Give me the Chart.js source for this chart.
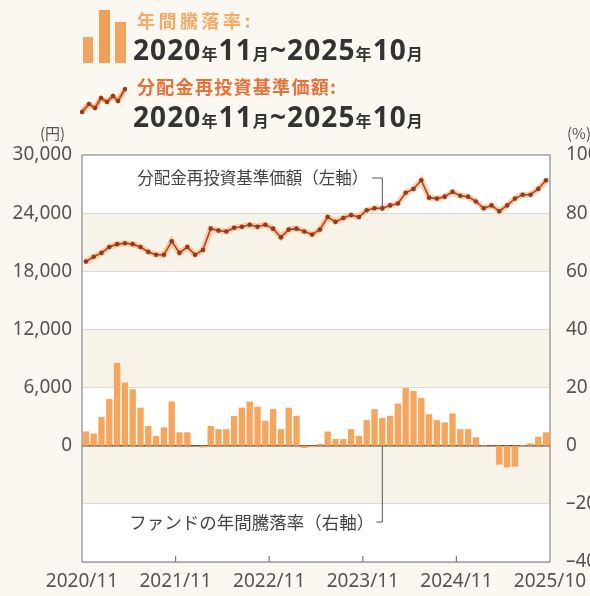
<!DOCTYPE html>
<html lang="ja">
<head>
<meta charset="utf-8">
<script src="https://cdn.jsdelivr.net/npm/chart.js@4.4.1/dist/chart.umd.min.js"></script>
<style>
  html, body { margin: 0; padding: 0; background: #fbf8f1; overflow: hidden; }
  #wrap { position: relative; width: 610px; height: 596px; }
  #chart { position: absolute; left: 0; top: 0; }
  .t { position: absolute; font-family: "Noto Sans CJK JP", "Noto Sans", sans-serif; white-space: nowrap; }
  .lbl1 { left: 137px; top: 7px; font-size: 18px; font-weight: bold; color: #f5aa66; letter-spacing: 3.5px; }
  .lbl2 { left: 137px; top: 73px; font-size: 18px; font-weight: bold; color: #e8703a; letter-spacing: 1.3px; }
  .date { font-family: "Noto Sans", "Noto Sans CJK JP", sans-serif; font-weight: bold; color: #333; font-size: 28px; line-height: normal; letter-spacing: 1.1px; }
  .date small { font-family: "Noto Sans CJK JP", sans-serif; font-size: 16px; font-weight: bold; }
  .d1 { left: 133px; top: 30px; }
  .d2 { left: 133px; top: 97px; }
  .unit { font-size: 15px; color: #555; top: 122px; }
</style>
</head>
<body>
<div id="wrap">
  <canvas id="chart" width="610" height="596"></canvas>
  <svg class="t" style="left:80px;top:8px" width="50" height="58">
    <rect x="3" y="29" width="10" height="26" fill="#f0a45e"/>
    <rect x="19" y="2" width="11" height="53" fill="#eea058"/>
    <rect x="35" y="14" width="11" height="41" fill="#f0a45e"/>
  </svg>
  <svg class="t" style="left:78px;top:84px" width="52" height="36">
    <polyline points="4,28 11,20 17,24 23,14 29,18 35,12 40,17 47,5" fill="none" stroke="#f6b27a" stroke-width="5" stroke-linejoin="round"/>
    <polyline points="4,28 11,20 17,24 23,14 29,18 35,12 40,17 47,5" fill="none" stroke="#b04528" stroke-width="1.6"/>
    <g fill="#8e3b24"><circle cx="4" cy="28" r="2.2"/><circle cx="11" cy="20" r="2.2"/><circle cx="17" cy="24" r="2.2"/><circle cx="23" cy="14" r="2.2"/><circle cx="29" cy="18" r="2.2"/><circle cx="35" cy="12" r="2.2"/><circle cx="40" cy="17" r="2.2"/><circle cx="47" cy="5" r="2.2"/></g>
  </svg>
  <div class="t lbl1">年間騰落率:</div>
  <div class="t date d1">2020<small>年</small>11<small>月</small>~2025<small>年</small>10<small>月</small></div>
  <div class="t lbl2">分配金再投資基準価額:</div>
  <div class="t date d2">2020<small>年</small>11<small>月</small>~2025<small>年</small>10<small>月</small></div>
  <div class="t unit" style="left:40px">(円)</div>
  <div class="t unit" style="left:567px">(%)</div>
</div>
<script>
// 月次ラベル（2020/11〜2025/10）
const months = [];
for (let k = 0; k < 60; k++) {
    const m = (10 + k) % 12 + 1;
    const y = 2020 + Math.floor((10 + k) / 12);
    months.push(y + '/' + m);
}
const xTickLabels = ['2020/11', '2021/11', '2022/11', '2023/11', '2024/11', '2025/10'];

// 分配金再投資基準価額（円）
const navValues = [
    19000, 19500, 19900, 20500, 20800, 20900, 20800, 20500, 20000, 19700,
    19700, 21100, 19900, 20500, 19700, 20200, 22400, 22200, 22100, 22500,
    22600, 22800, 22600, 22800, 22400, 21500, 22300, 22400, 22100, 21800,
    22300, 23600, 23100, 23500, 23800, 23600, 24300, 24500, 24500, 24800,
    25000, 26100, 26500, 27400, 25600, 25500, 25700, 26200, 25800, 25700,
    25200, 24500, 24800, 24200, 24800, 25500, 25900, 25900, 26500, 27400
];

// 年間騰落率（%）
const returnValues = [
    4.9, 4.2, 9.9, 16.1, 28.5, 21.7, 19.4, 13.1, 6.8, 3.4,
    6.3, 15.2, 4.6, 4.6, 0, -0.6, 6.8, 5.7, 5.7, 10.2,
    13.1, 15.2, 13.4, 8.6, 12.6, 5.7, 13.1, 10.3, -0.8, -0.5,
    0.6, 4.9, 2.3, 2.3, 5.7, 3.4, 8.8, 12.6, 9.5, 10.3,
    14.5, 19.8, 18.9, 16.4, 10.8, 8.8, 8.0, 11.1, 5.7, 5.7,
    2.9, 0.2, 0.1, -6.5, -7.4, -7.2, 0.3, 0.8, 3.1, 4.6
];

const leftTicks = [-12000, 30000, 6000];   // min, max, step
const rightTicks = [-40, 100, 20];
const bands = [[18000, 24000], [6000, 12000], [-6000, 0]];
const calloutIndex = 38;

const tickFont = { family: 'Noto Sans', size: 19 };

// 背景の帯・枠・注記
const decor = {
    id: 'decor',
    beforeDraw(chart) {
        const { ctx, chartArea: a, scales } = chart;
        ctx.save();
        ctx.fillStyle = '#ffffff';
        ctx.fillRect(a.left, a.top, a.width, a.height);
        ctx.fillStyle = '#f7f3e8';
        bands.forEach(b => {
            const y1 = scales.y.getPixelForValue(b[1]);
            const y0 = scales.y.getPixelForValue(b[0]);
            ctx.fillRect(a.left, y1, a.width, y0 - y1);
        });
        ctx.restore();
    },
    afterDatasetsDraw(chart) {
        const { ctx, chartArea: a, scales } = chart;
        ctx.save();
        // 枠
        ctx.strokeStyle = '#8a8a8a';
        ctx.lineWidth = 1.2;
        ctx.strokeRect(a.left, a.top, a.width, a.height);
        // 下部の目盛り
        ctx.strokeStyle = '#777';
        [12, 24, 36, 48].forEach(v => {
            const x = scales.x2.getPixelForValue(v);
            ctx.beginPath();
            ctx.moveTo(x, a.bottom);
            ctx.lineTo(x, a.bottom - 6);
            ctx.stroke();
        });
        // 注記
        const cx = scales.x.getPixelForValue(calloutIndex);
        ctx.strokeStyle = '#555';
        ctx.lineWidth = 1;
        ctx.fillStyle = '#444';
        ctx.textBaseline = 'middle';
        ctx.textAlign = 'right';
        const ty = 178;
        ctx.font = '16.5px "Noto Sans CJK JP"';
        ctx.fillText('分配金再投資基準価額（左軸）', cx - 14, ty);
        ctx.beginPath();
        ctx.moveTo(cx - 10, ty);
        ctx.lineTo(cx, ty);
        ctx.lineTo(cx, scales.y.getPixelForValue(navValues[calloutIndex]) + 3);
        ctx.stroke();
        const by = 522;
        ctx.font = '17.5px "Noto Sans CJK JP"';
        ctx.fillText('ファンドの年間騰落率（右軸）', cx - 8, by);
        ctx.beginPath();
        ctx.moveTo(cx - 6, by);
        ctx.lineTo(cx, by);
        ctx.lineTo(cx, scales.y1.getPixelForValue(0));
        ctx.stroke();
        ctx.restore();
    }
};

new Chart(document.getElementById('chart').getContext('2d'), {
    type: 'bar',
    data: {
        labels: months,
        datasets: [
            {
                type: 'line',
                data: navValues,
                yAxisID: 'y',
                borderColor: '#b04528',
                borderWidth: 1.6,
                pointRadius: 2.3,
                pointBackgroundColor: '#8e3b24',
                pointBorderWidth: 0,
                tension: 0,
                order: 0
            },
            {
                type: 'line',
                data: navValues,
                yAxisID: 'y',
                borderColor: 'rgba(247,168,100,0.55)',
                borderWidth: 6,
                pointRadius: 0,
                tension: 0,
                order: 1
            },
            {
                data: returnValues,
                yAxisID: 'y1',
                backgroundColor: '#f5a65c',
                barPercentage: 0.82,
                categoryPercentage: 1,
                order: 2
            }
        ]
    },
    options: {
        responsive: false,
        animation: false,
        events: [],
        layout: { padding: { top: 155, left: 0, right: 0, bottom: 0 } },
        plugins: { legend: { display: false }, tooltip: { enabled: false } },
        scales: {
            x: { type: 'category', display: false, offset: true },
            x2: {
                type: 'linear', position: 'bottom', min: 0, max: 60,
                offset: false,
                afterFit(s) { s.height = 34; },
                grid: { display: false, offset: false },
                border: { display: false },
                ticks: {
                    stepSize: 12, padding: 0, color: '#555', font: tickFont,
                    maxRotation: 0, autoSkip: false,
                    callback: v => xTickLabels[v / 12]
                }
            },
            y: {
                position: 'left',
                min: leftTicks[0], max: leftTicks[1],
                afterFit(s) { s.width = 82; },
                border: { display: false },
                grid: {
                    drawTicks: false,
                    color: c => c.tick.value === 0 ? '#6b4a38' : (c.tick.value < 30000 ? '#d9d9d9' : 'rgba(0,0,0,0)'),
                    lineWidth: c => c.tick.value === 0 ? 1.6 : 1
                },
                ticks: {
                    stepSize: leftTicks[2], padding: 10, color: '#555', font: tickFont,
                    callback: v => v < 0 ? '' : v.toLocaleString('en-US')
                }
            },
            y1: {
                position: 'right',
                min: rightTicks[0], max: rightTicks[1],
                afterFit(s) { s.width = 60; },
                border: { display: false },
                grid: { display: false, drawTicks: false },
                ticks: {
                    stepSize: rightTicks[2], padding: 16, color: '#555', font: tickFont,
                    callback: v => (v < 0 ? '\u2013' + (-v) : v)
                }
            }
        }
    },
    plugins: [decor]
});
</script>
</body>
</html>
